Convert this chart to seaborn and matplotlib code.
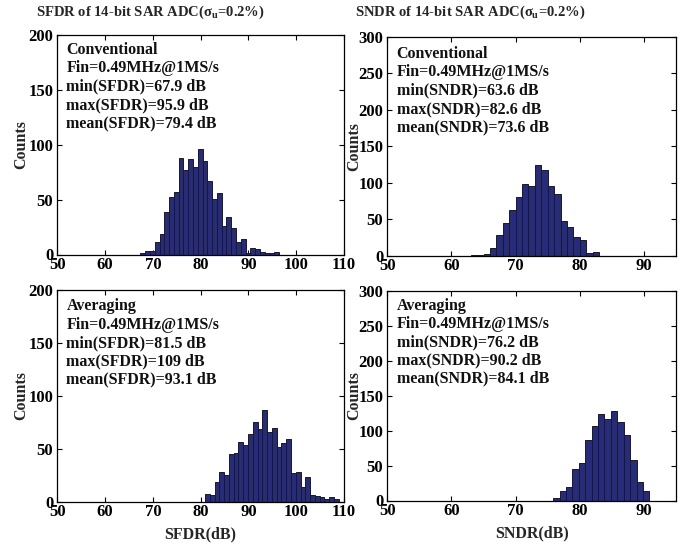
import numpy as np
import pandas as pd
import matplotlib
matplotlib.use("Agg")
import matplotlib.pyplot as plt
import seaborn as sns

# ---------------- data ----------------
bin_width = 1.0
sfdr_conv_start = 67.4
sfdr_conv_counts = [1, 3, 3, 11, 19, 39, 52, 57, 88, 77, 87, 80, 96, 85, 67, 51,
                    56, 26, 34, 24, 11, 14, 1, 6, 5, 2, 1, 1, 2]
sndr_conv_start = 63.0
sndr_conv_counts = [1, 1, 2, 10, 28, 45, 63, 81, 99, 96, 124, 118, 96, 85, 48,
                    39, 25, 21, 4, 5]
sfdr_avg_start = 80.9
sfdr_avg_counts = [7, 6, 19, 28, 25, 45, 46, 56, 54, 64, 75, 69, 87, 66, 70, 52,
                   55, 59, 27, 28, 14, 23, 6, 5, 4, 3, 4, 3]
sndr_avg_start = 75.85
sndr_avg_counts = [3, 13, 20, 45, 53, 86, 107, 124, 116, 128, 113, 94, 58, 27, 14]

sfdr_xticks = [50, 60, 70, 80, 90, 100, 110]
sndr_xticks = [50, 60, 70, 80, 90]
sfdr_yticks = [0, 50, 100, 150, 200]
sndr_yticks = [0, 50, 100, 150, 200, 250, 300]

titles = [r"SFDR of 14-bit SAR ADC($\sigma_u$=0.2%)",
          r"SNDR of 14-bit SAR ADC($\sigma_u$=0.2%)"]
info_conv_sfdr = ["Conventional", "Fin=0.49MHz@1MS/s", "min(SFDR)=67.9 dB",
                  "max(SFDR)=95.9 dB", "mean(SFDR)=79.4 dB"]
info_conv_sndr = ["Conventional", "Fin=0.49MHz@1MS/s", "min(SNDR)=63.6 dB",
                  "max(SNDR)=82.6 dB", "mean(SNDR)=73.6 dB"]
info_avg_sfdr = ["Averaging", "Fin=0.49MHz@1MS/s", "min(SFDR)=81.5 dB",
                 "max(SFDR)=109 dB", "mean(SFDR)=93.1 dB"]
info_avg_sndr = ["Averaging", "Fin=0.49MHz@1MS/s", "min(SNDR)=76.2 dB",
                 "max(SNDR)=90.2 dB", "mean(SNDR)=84.1 dB"]

# ---------------- style ----------------
sns.set_theme(style="ticks")
FONT = "Liberation Serif"
plt.rcParams["font.family"] = [FONT, "DejaVu Serif"]
plt.rcParams["font.weight"] = "bold"
plt.rcParams["axes.labelweight"] = "bold"
plt.rcParams["mathtext.fontset"] = "custom"
plt.rcParams["mathtext.rm"] = FONT + ":bold"
plt.rcParams["mathtext.it"] = FONT + ":bold"
plt.rcParams["mathtext.bf"] = FONT + ":bold"

W, H = 697, 544
fig = plt.figure(figsize=(W / 100, H / 100), dpi=100)
fig.patch.set_facecolor("white")

def rect(l, r, t, b):
    return [l / W, 1 - b / H, (r - l) / W, (b - t) / H]

panels = [
    dict(r=rect(57.3, 344.0, 35.0, 254.5), start=sfdr_conv_start, counts=sfdr_conv_counts,
         xlim=(50, 110), xt=sfdr_xticks, ylim=(0, 200), yt=sfdr_yticks,
         info=info_conv_sfdr, ipos=(66.5, 50.0), xlabel=None, ylx=-0.097),
    dict(r=rect(387.3, 676.0, 37.0, 255.7), start=sndr_conv_start, counts=sndr_conv_counts,
         xlim=(50, 95), xt=sndr_xticks, ylim=(0, 300), yt=sndr_yticks,
         info=info_conv_sndr, ipos=(396.7, 54.0), xlabel=None, ylx=-0.088),
    dict(r=rect(57.3, 344.0, 290.0, 501.7), start=sfdr_avg_start, counts=sfdr_avg_counts,
         xlim=(50, 110), xt=sfdr_xticks, ylim=(0, 200), yt=sfdr_yticks,
         info=info_avg_sfdr, ipos=(66.5, 306.5), xlabel="SFDR(dB)", ylx=-0.097),
    dict(r=rect(387.3, 676.0, 291.0, 500.5), start=sndr_avg_start, counts=sndr_avg_counts,
         xlim=(50, 95), xt=sndr_xticks, ylim=(0, 300), yt=sndr_yticks,
         info=info_avg_sndr, ipos=(396.7, 305.5), xlabel="SNDR(dB)", ylx=-0.088),
]

bar_face = "#262b7c"
bar_edge = "#1a1a22"

for i, p in enumerate(panels):
    ax = fig.add_axes(p["r"])
    n = len(p["counts"])
    centers = [p["start"] + (k + 0.5) * bin_width for k in range(n)]
    df = pd.DataFrame({"x": centers, "w": p["counts"]})
    sns.histplot(data=df, x="x", weights="w", binwidth=bin_width,
                 binrange=(p["start"], p["start"] + n * bin_width),
                 color=bar_face, edgecolor=bar_edge, linewidth=0.7, alpha=1.0, ax=ax)
    ax.set_xlim(*p["xlim"])
    ax.set_ylim(*p["ylim"])
    ax.set_xticks(p["xt"])
    ax.set_yticks(p["yt"])
    ax.tick_params(direction="in", top=True, right=True, length=3.5, width=0.8,
                   labelsize=12, colors="black")
    ax.tick_params(axis="x", pad=2.0)
    ax.tick_params(axis="y", pad=3.0)
    for lab in ax.get_xticklabels() + ax.get_yticklabels():
        lab.set_fontweight("bold")
    for s in ax.spines.values():
        s.set_visible(True)
        s.set_linewidth(0.9)
        s.set_color("black")
    ax.set_ylabel("Counts", fontsize=11.5, fontweight="bold")
    ax.yaxis.set_label_coords(p["ylx"], 0.5)
    if p["xlabel"]:
        ax.set_xlabel(p["xlabel"], fontsize=11.5, fontweight="bold")
        ax.xaxis.set_label_coords(0.5, -0.118)
    else:
        ax.set_xlabel("")
    # info text lines
    x0, y0 = p["ipos"]
    for j, line in enumerate(p["info"]):
        fig.text(x0 / W, 1 - (y0 + j * 18.3) / H, line, fontsize=11.5,
                 fontweight="bold", ha="left", va="center", color="#111111")

fig.text(150 / W, 1 - 12 / H, titles[0], fontsize=10.5, fontweight="bold",
         ha="center", va="center")
fig.text(470 / W, 1 - 12 / H, titles[1], fontsize=10.5, fontweight="bold",
         ha="center", va="center")

fig.savefig("out.png", dpi=100, facecolor="white")
